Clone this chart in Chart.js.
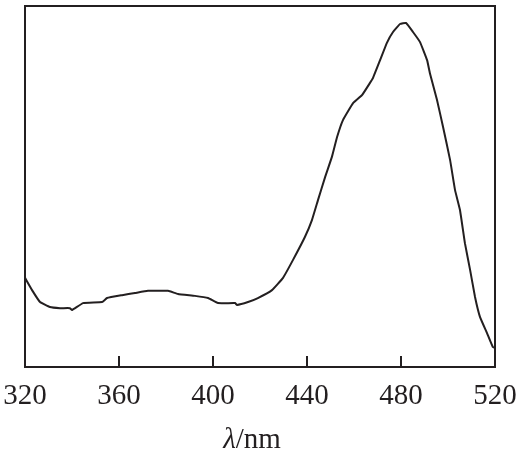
<!DOCTYPE html>
<html>
<head>
<meta charset="utf-8">
<script src="https://cdn.jsdelivr.net/npm/chart.js@4/dist/chart.umd.min.js"></script>
<style>
  html, body { margin: 0; padding: 0; background: #ffffff; }
  #wrap { width: 520px; height: 454px; }
</style>
</head>
<body>
<div id="wrap"><canvas id="c" width="520" height="454"></canvas></div>
<script>
// Wavelength (nm)
const wavelengths = [320, 323.0, 326.4, 330.6, 334.9, 339.1, 340.0, 344.7, 352.8, 354.9, 361.3, 366.8, 372.3,
  380.9, 385.1, 392.3, 397.9, 402.1, 409.4, 410.2, 414.9, 419.1, 425.1, 429.8, 434.0, 439.1, 442.1,
  444.7, 447.7, 450.6, 452.8, 455.3, 459.6, 463.4, 466.8, 468.1, 471.1, 474.0, 476.6, 479.6,
  482.1, 485.1, 488.1, 491.1, 492.3, 495.3, 497.9, 500.9, 503, 505.1, 507.2, 509.4, 511.5, 513.6,
  516.6, 519.1, 520];
// Absorbance (arbitrary units)
const absorbance = [0.247, 0.213, 0.180, 0.166, 0.163, 0.163, 0.158, 0.177, 0.180, 0.191, 0.199, 0.205, 0.211,
  0.211, 0.202, 0.197, 0.191, 0.177, 0.177, 0.172, 0.180, 0.191, 0.213, 0.247, 0.296, 0.360, 0.407,
  0.463, 0.526, 0.582, 0.637, 0.684, 0.731, 0.753, 0.787, 0.801, 0.850, 0.898, 0.928, 0.950,
  0.953, 0.928, 0.900, 0.850, 0.814, 0.740, 0.665, 0.573, 0.490, 0.435, 0.343, 0.269, 0.194, 0.139,
  0.094, 0.055, 0.053];
const xTicks = [320, 360, 400, 440, 480, 520];
const xMin = 320, xMax = 520;
const yMin = 0, yMax = 1;
const xTitleItalic = 'λ';
const xTitleRest = '/nm';

const ink = '#231f20';
const serif = '"Liberation Serif", "Times New Roman", serif';

const framePlugin = {
  id: 'frame',
  afterDatasetsDraw(chart) {
    const { ctx, chartArea: a, scales } = chart;
    ctx.save();
    ctx.strokeStyle = ink;
    ctx.lineWidth = 2;
    ctx.strokeRect(a.left, a.top, a.right - a.left, a.bottom - a.top);
    // inward ticks
    const xs = scales.x;
    ctx.beginPath();
    xTicks.forEach(v => {
      if (v === xMin || v === xMax) return;
      const px = Math.round(xs.getPixelForValue(v));
      ctx.moveTo(px, a.bottom);
      ctx.lineTo(px, a.bottom - 11);
    });
    ctx.stroke();
    // axis title with italic lambda
    ctx.fillStyle = ink;
    ctx.textBaseline = 'middle';
    const fItal = 'italic 29px ' + serif;
    const fNorm = '29px ' + serif;
    ctx.font = fItal;
    const w1 = ctx.measureText(xTitleItalic).width;
    ctx.font = fNorm;
    const w2 = ctx.measureText(xTitleRest).width;
    const cx = (a.left + a.right) / 2 - 8;
    const x0 = cx - (w1 + w2) / 2;
    const y = a.bottom + 73;
    ctx.font = fItal;
    ctx.textAlign = 'left';
    ctx.fillText(xTitleItalic, x0, y);
    ctx.font = fNorm;
    ctx.fillText(xTitleRest, x0 + w1, y);
    ctx.restore();
  }
};

new Chart(document.getElementById('c'), {
  type: 'line',
  data: {
    datasets: [{
      data: wavelengths.map((w, i) => ({ x: w, y: absorbance[i] })),
      borderColor: ink,
      borderWidth: 2,
      pointRadius: 0,
      tension: 0.1,
      fill: false
    }]
  },
  options: {
    responsive: false,
    animation: false,
    devicePixelRatio: 1,
    layout: { padding: { left: 25, right: 25, top: 6, bottom: 0 } },
    plugins: { legend: { display: false }, tooltip: { enabled: false } },
    scales: {
      x: {
        type: 'linear',
        min: xMin,
        max: xMax,
        afterBuildTicks(scale) { scale.ticks = xTicks.map(v => ({ value: v })); },
        afterFit(scale) {
          scale.paddingLeft = 0;
          scale.paddingRight = 0;
          scale.height = 87;
        },
        grid: { display: false, drawTicks: false },
        border: { display: false },
        ticks: {
          color: ink,
          padding: 15,
          maxRotation: 0,
          autoSkip: false,
          font: { family: serif, size: 29, lineHeight: 1.0 }
        }
      },
      y: {
        display: false,
        min: yMin,
        max: yMax
      }
    }
  },
  plugins: [framePlugin]
});
</script>
</body>
</html>
